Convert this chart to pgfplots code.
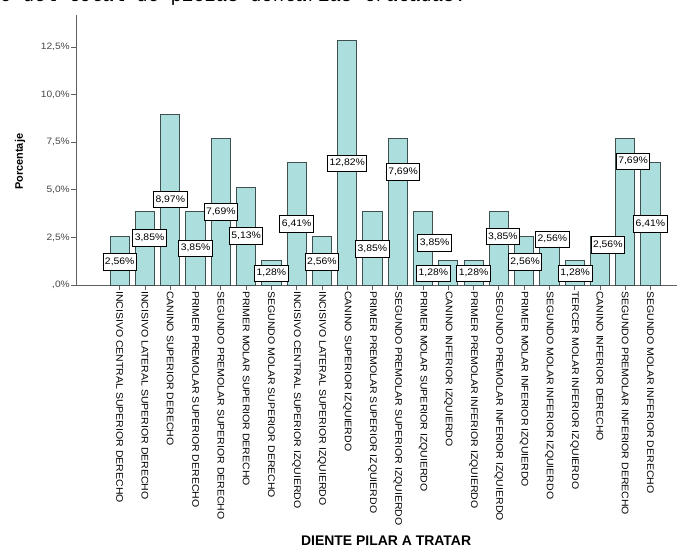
\documentclass[border=0pt]{standalone}
\usepackage{fontspec}
\setmainfont{Liberation Sans}
\newfontfamily\spssfont[FakeStretch=1.1]{Liberation Sans}
\newfontfamily\topfont{Liberation Mono}
\usepackage{pgfplots}
\usepackage{pgfplotstable}
\pgfplotsset{compat=1.18}
\definecolor{barfill}{RGB}{172,222,222}
\definecolor{baredge}{RGB}{62,80,80}
\definecolor{axisgray}{RGB}{95,95,95}
\definecolor{ticktext}{RGB}{70,70,70}

\pgfplotstableread{
x y
0 2.56
1 3.85
2 8.97
3 3.85
4 7.69
5 5.13
6 1.28
7 6.41
8 2.56
9 12.82
10 3.85
11 7.69
12 3.85
13 1.28
14 1.28
15 3.85
16 2.56
17 2.56
18 1.28
19 2.56
20 7.69
21 6.41
}\bardata

\pgfplotstableread{
x y v
0 1.22 2.56
1.18 2.47 3.85
2 4.5 8.97
3 1.93 3.85
4 3.83 7.69
5 2.57 5.13
6 0.62 1.28
7 3.2 6.41
8 1.22 2.56
9 6.4 12.82
10 1.9 3.85
11.21 5.95 7.69
12.46 2.22 3.85
12.41 0.62 1.28
14 0.62 1.28
15.16 2.54 3.85
16.04 1.22 2.56
17.12 2.4 2.56
18.02 0.62 1.28
19.31 2.1 2.56
20.31 6.5 7.69
21 3.2 6.41
}\labeldata

\begin{document}
\begin{tikzpicture}[x=1bp,y=1bp]
\useasboundingbox (0,0) rectangle (679,552);
\node[anchor=base west, inner sep=0, font=\topfont\fontsize{19}{19}\selectfont] at (0,550) {o del total de piezas dentarias tratadas.};
\begin{axis}[
  at={(76bp,267bp)}, anchor=south west,
  scale only axis, width=601bp, height=270bp,
  xmin=-1.73, xmax=22.05, ymin=0, ymax=14.18,
  axis lines=left,
  axis line style={-, draw=axisgray, line width=0.9bp},
  tick align=outside,
  major tick length=5bp,
  tick style={draw=axisgray, line width=0.8bp},
  /pgf/number format/assume math mode=true,
  xtick={0,...,21},
  xticklabels={
    INCISIVO CENTRAL SUPERIOR DERECHO,
    INCISIVO LATERAL SUPERIOR DERECHO,
    CANINO SUPERIOR DERECHO,
    PRIMER PREMOLAR SUPERIOR DERECHO,
    SEGUNDO PREMOLAR SUPERIOR DERECHO,
    PRIMER MOLAR SUPERIOR DERECHO,
    SEGUNDO MOLAR SUPERIOR DERECHO,
    INCISIVO CENTRAL SUPERIOR IZQUIERDO,
    INCISIVO LATERAL SUPERIOR IZQUIERDO,
    CANINO SUPERIOR IZQUIERDO,
    PRIMER PREMOLAR SUPERIOR IZQUIERDO,
    SEGUNDO PREMOLAR SUPERIOR IZQUIERDO,
    PRIMER MOLAR SUPERIOR IZQUIERDO,
    CANINO INFERIOR IZQUIERDO,
    PRIMER PREMOLAR INFERIOR IZQUIERDO,
    SEGUNDO PREMOLAR INFERIOR IZQUIERDO,
    PRIMER MOLAR INFERIOR IZQUIERDO,
    SEGUNDO MOLAR INFERIOR IZQUIERDO,
    TERCER MOLAR INFERIOR IZQUIERDO,
    CANINO INFERIOR DERECHO,
    SEGUNDO PREMOLAR INFERIOR DERECHO,
    SEGUNDO MOLAR INFERIOR DERECHO},
  xticklabel style={rotate=-90, anchor=west, inner sep=1bp,
    font=\spssfont\fontsize{9.6}{9.6}\selectfont, text=black},
  ytick={0,2.5,5,7.5,10,12.5},
  yticklabels={{,0\%},{2,5\%},{5,0\%},{7,5\%},{10,0\%},{12,5\%}},
  yticklabel style={font=\spssfont\fontsize{9.3}{9.3}\selectfont, text=ticktext, inner sep=1bp},
  ylabel={Porcentaje},
  ylabel style={at={(axis description cs:-0.093,0.456)}, anchor=center,
    font=\bfseries\fontsize{11}{11}\selectfont},
  xlabel={DIENTE PILAR A TRATAR},
  xlabel style={at={(axis description cs:0.516,0)}, anchor=center, yshift=-256bp,
    font=\bfseries\fontsize{14}{14}\selectfont},
  clip=false,
]
\addplot[ybar, bar width=0.76, fill=barfill, draw=baredge, line width=0.9bp] table[x=x,y=y] {\bardata};
\addplot[draw=none, mark=none, point meta=explicit,
  nodes near coords={\pgfmathprintnumber[fixed, fixed zerofill, precision=2, use comma, assume math mode=true]{\pgfplotspointmeta}\%},
  nodes near coords style={anchor=center, draw=black, line width=0.8bp, fill=white,
    inner xsep=2bp, inner ysep=4.3bp, text=black,
    font=\spssfont\fontsize{9.5}{9.5}\selectfont}]
  table[x=x,y=y,meta=v] {\labeldata};
\end{axis}
\end{tikzpicture}
\end{document}
